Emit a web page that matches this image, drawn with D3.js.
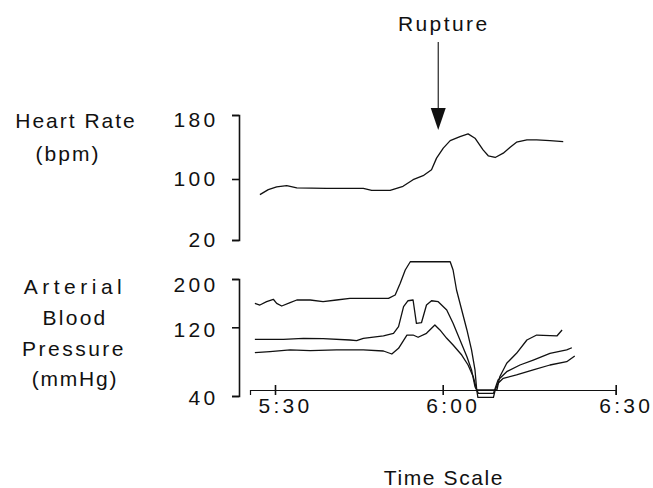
<!DOCTYPE html>
<html lang="en">
  <head>
    <meta charset="utf-8">
    <title>Rupture trace</title>
    <script src="https://d3js.org/d3.v7.min.js"></script>
    <style type="text/css">
        body {
          margin: 0;
          background: #fff;
        }
        svg text {
          font-family: "Liberation Sans", Arial, Helvetica, sans-serif;
          font-size: 21px;
          fill: #111;
        }
        .axis path, .axis line {
          stroke: #111;
          stroke-width: 1.6px;
        }
        .axis text {
          letter-spacing: 3.3px;
        }
        .x-axis path {
          stroke-width: 1.2px;
        }
        .trace {
          fill: none;
          stroke: #111;
          stroke-width: 1.3px;
          stroke-linejoin: round;
        }
    </style>
  </head>
  <body>
    <div id="chart"></div>

    <script>
        // time in minutes after 5:00
        var hrTime = [27.3, 28.8, 30.3, 32.1, 33.9, 39.2, 45.8, 47.3, 50.6, 52.9, 54.7, 56.5, 58.0, 58.9,
                      60.1, 61.3, 63.0, 64.4, 65.6, 67.0, 67.9, 69.1, 70.5, 71.7, 72.8, 74.6, 76.3, 78.6, 80.9];
        var hrValue = [79.5, 86.1, 89.6, 91.3, 88.3, 87.8, 87.8, 85.1, 85.1, 90.4, 99.1, 104.1, 111.6, 126.1,
                       138.6, 148.0, 153.0, 156.4, 151.0, 136.4, 129.0, 126.9, 132.3, 139.8, 146.0, 148.9, 148.9, 148.0, 146.8];

        var sysTime = [26.4, 27.3, 28.5, 29.7, 30.3, 31.2, 32.7, 33.9, 36.3, 38.6, 41.0, 43.4, 50.3, 51.5, 52.4, 53.3, 54.2,
                       61.3, 61.8, 62.4, 63.3, 64.2, 65.0, 65.6, 65.9, 69.4, 69.9, 71.1, 72.8, 74.6, 76.3, 79.8, 80.7];
        var sysValue = [159.7, 156.9, 162.4, 166.4, 159.7, 155.3, 160.7, 165.2, 165.2, 162.4, 165.2, 168.0, 168.0, 173.5, 192.9, 214.9, 228.6,
                        228.6, 214.9, 181.8, 148.6, 116.9, 93.6, 70.3, 47.0, 47.0, 62.5, 78.1, 89.7, 105.2, 111.0, 109.9, 116.9];

        var meanTime = [26.4, 31.5, 35.1, 38.6, 43.4, 44.6, 45.8, 49.4, 51.2, 52.1, 53.0, 53.8, 54.7, 55.3, 56.2, 57.1, 58.0,
                        59.2, 60.7, 61.8, 63.0, 64.2, 65.0, 65.6, 66.2, 68.8, 69.6, 71.1, 73.4, 75.7, 78.6, 81.5, 82.4];
        var meanValue = [106.0, 106.0, 107.2, 106.7, 105.2, 104.4, 107.2, 109.9, 113.0, 121.0, 154.1, 164.0, 165.2, 126.6, 127.6, 156.9, 164.0,
                         162.4, 148.6, 126.6, 105.2, 85.8, 70.3, 50.8, 43.1, 43.1, 58.6, 68.3, 76.1, 81.9, 89.7, 93.6, 96.2];

        var diaTime = [26.4, 29.1, 32.7, 36.3, 41.0, 45.8, 49.4, 50.9, 52.1, 53.6, 54.7, 55.6, 57.1, 58.6,
                       59.5, 60.7, 61.8, 63.3, 64.4, 65.3, 65.9, 66.1, 68.8, 69.1, 69.6, 70.5, 72.8, 75.7, 78.6, 81.5, 82.9];
        var diaValue = [90.4, 91.6, 93.6, 92.8, 93.6, 93.6, 92.4, 88.9, 95.5, 111.0, 111.0, 108.4, 113.0, 123.8,
                        116.9, 107.2, 99.4, 87.7, 76.1, 62.5, 47.0, 38.3, 38.3, 47.0, 54.8, 60.6, 64.5, 70.3, 76.1, 79.9, 86.5];

        var timeTicks = [30, 60, 90];
        var timeLabels = ["5:30", "6:00", "6:30"];
        var hrTicks = [20, 100, 180];
        var bpTicks = [40, 120, 200];
        var ruptureTime = 59.2;

        var width = 653, height = 488;

        var svg = d3.select("#chart")
                    .append("svg")
                    .attr("width", width)
                    .attr("height", height);

        // the printed axes are not evenly spaced, so the scales follow the printed ticks
        var x = d3.scaleLinear()
            .domain([25.53, 30, 60, 90])
            .range([250, 275, 442.7, 615.7]);

        var yHr = d3.scaleLinear()
            .domain([20, 100, 180])
            .range([240, 179, 115]);

        var yBp = d3.scaleLinear()
            .domain([40, 120, 200])
            .range([396, 327.3, 279]);

        var axisX = 239;

        var hrAxis = svg.append("g")
            .attr("class", "axis")
            .attr("transform", "translate(" + axisX + ",0)")
            .call(d3.axisLeft(yHr).tickValues(hrTicks).tickSize(7).tickPadding(13.5));

        var bpAxis = svg.append("g")
            .attr("class", "axis")
            .attr("transform", "translate(" + axisX + ",0)")
            .call(d3.axisLeft(yBp).tickValues(bpTicks).tickSize(7).tickPadding(13.5));

        svg.selectAll(".axis .domain").attr("fill", "none");
        // top labels sit a little below their ticks in the original
        hrAxis.selectAll(".tick text").attr("dy", function(d) { return d === 180 ? "0.55em" : "0.32em"; });
        bpAxis.selectAll(".tick text").attr("dy", function(d) { return d === 200 ? "0.6em" : "0.42em"; });

        var xAxis = svg.append("g")
            .attr("class", "axis x-axis")
            .attr("transform", "translate(0,390)")
            .call(d3.axisBottom(x).tickValues(timeTicks)
                  .tickFormat(function(d, i) { return timeLabels[i]; })
                  .tickSizeOuter(0).tickSize(5).tickPadding(3.5));
        xAxis.selectAll(".tick line").attr("y1", -5);
        xAxis.selectAll(".tick text").attr("dx", 10);

        svg.selectAll(".axis text")
            .attr("fill", "#111")
            .attr("font-size", null)
            .attr("font-family", null);

        function drawTrace(times, values, y) {
            var line = d3.line()
                .x(function(d, i) { return x(times[i]); })
                .y(function(d) { return y(d); });
            svg.append("path")
                .datum(values)
                .attr("class", "trace")
                .attr("d", line);
        }

        drawTrace(hrTime, hrValue, yHr);
        drawTrace(sysTime, sysValue, yBp);
        drawTrace(meanTime, meanValue, yBp);
        drawTrace(diaTime, diaValue, yBp);

        // rupture marker
        var rx = x(ruptureTime);
        svg.append("text")
            .attr("x", rx + 5.5)
            .attr("y", 31)
            .attr("text-anchor", "middle")
            .style("letter-spacing", "2.4px")
            .text("Rupture");
        svg.append("line")
            .attr("x1", rx).attr("x2", rx)
            .attr("y1", 42).attr("y2", 112)
            .attr("stroke", "#111")
            .attr("stroke-width", 1.1);
        svg.append("path")
            .attr("d", "M" + (rx - 7.5) + ",108L" + (rx + 7.5) + ",108L" + rx + ",130Z")
            .attr("fill", "#111");

        // side labels
        var labels = [
            {t: "Heart Rate", x: 76, y: 128, s: 2},
            {t: "(bpm)", x: 68, y: 161, s: 2},
            {t: "Arterial", x: 75, y: 294, s: 4.5},
            {t: "Blood", x: 75, y: 325, s: 2.3},
            {t: "Pressure", x: 74, y: 356, s: 2.5},
            {t: "(mmHg)", x: 75, y: 386, s: 1.8},
            {t: "Time Scale", x: 444, y: 485, s: 1.6}
        ];
        svg.selectAll(".side")
            .data(labels)
            .enter().append("text")
            .attr("class", "side")
            .attr("text-anchor", "middle")
            .attr("x", function(d) { return d.x; })
            .attr("y", function(d) { return d.y; })
            .style("letter-spacing", function(d) { return d.s + "px"; })
            .text(function(d) { return d.t; });
    </script>
  </body>
</html>
